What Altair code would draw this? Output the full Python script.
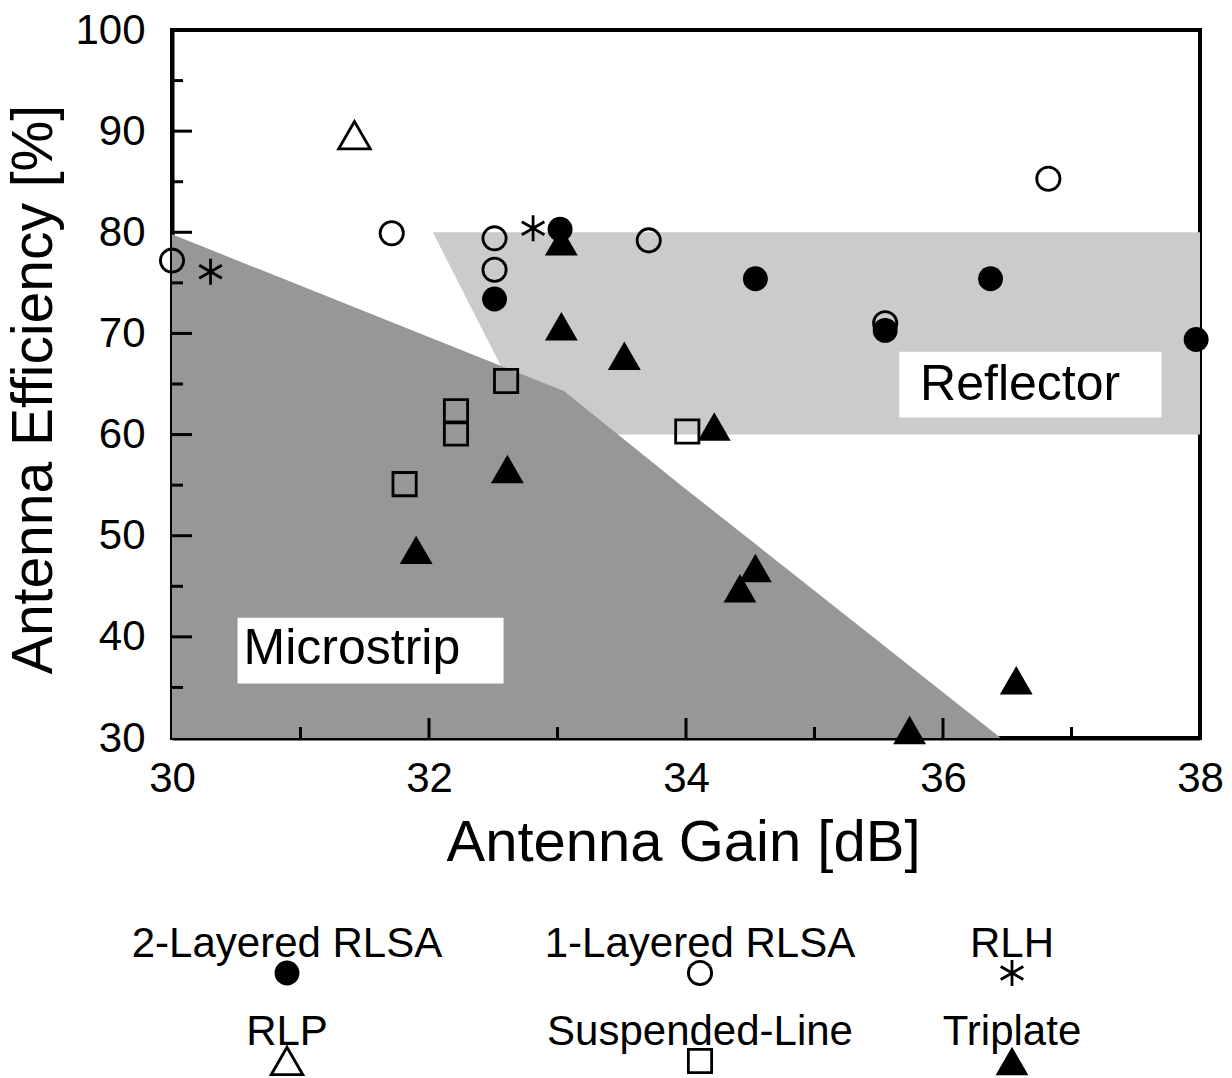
import altair as alt
import pandas as pd

# ---------------- data ----------------
two_layer_gain = [33.02, 32.51, 34.54, 35.55, 36.37, 37.97]
two_layer_eff = [80.3, 73.4, 75.4, 70.3, 75.4, 69.4]

one_layer_gain = [30.0, 31.71, 32.51, 32.51, 33.71, 35.55, 36.82]
one_layer_eff = [77.2, 79.9, 79.4, 76.3, 79.2, 71.0, 85.3]

rlh_gain = [30.30, 32.81]
rlh_eff = [76.1, 80.4]

rlp_gain = [31.42]
rlp_eff = [89.6]

susp_gain = [31.81, 32.21, 32.21, 32.60, 34.01]
susp_eff = [55.1, 60.1, 62.3, 65.3, 60.3]

tri_gain = [33.03, 33.03, 33.52, 34.22, 32.61, 31.90, 34.54, 34.42, 36.57, 35.74]
tri_eff = [79.1, 70.7, 67.8, 60.8, 56.6, 48.6, 46.8, 44.8, 35.7, 30.8]

# shaded regions
micro_gain = [30.0, 33.05, 33.98, 36.45]
micro_top = [79.8, 64.3, 54.8, 30.0]
micro_bottom = [30.0, 30.0, 30.0, 30.0]

refl_gain = [32.03, 32.83, 38.0]
refl_top = [80.0, 80.0, 80.0]
refl_bottom = [80.0, 60.0, 60.0]

# region labels
region_names = ["Reflector", "Microstrip"]
region_text_gain = [36.6, 31.40]
region_text_eff = [64.9, 38.8]
region_box_g1 = [35.66, 30.51]
region_box_g2 = [37.70, 32.58]
region_box_e1 = [61.7, 35.4]
region_box_e2 = [68.2, 41.9]

# ticks
x_major = [32, 34, 36]
x_minor = [31, 33, 35, 37]
y_major = [40, 50, 60, 70, 80, 90]
y_minor = [35, 45, 55, 65, 75, 85, 95]

# legend
legend_names = ["2-Layered RLSA", "1-Layered RLSA", "RLH", "RLP", "Suspended-Line", "Triplate"]
legend_col = [0, 1, 2, 0, 1, 2]
legend_row = [0, 0, 0, 1, 1, 1]

# ---------------- styling ----------------
W, H = 1028, 708
FONT = "Liberation Sans"
DARK = "#979797"
LIGHT = "#cbcbcb"
ASTERISK = "M0,-1L0,1M-0.866,-0.5L0.866,0.5M-0.866,0.5L0.866,-0.5"

xs = alt.Scale(domain=[30, 38], nice=False, zero=False)
ys = alt.Scale(domain=[30, 100], nice=False, zero=False)

x_axis = alt.Axis(
    values=[30, 32, 34, 36, 38], format="d", title="Antenna Gain [dB]",
    ticks=False, tickSize=0, labelPadding=20, labelFlush=False,
    labelFont=FONT, labelFontSize=42, labelColor="black",
    titleFont=FONT, titleFontSize=58, titleFontWeight="normal", titleColor="black",
    titleX=511, titleY=122, titleBaseline="alphabetic", titleAlign="center",
    domainColor="black", domainWidth=4, grid=False,
)
y_axis = alt.Axis(
    values=[30, 40, 50, 60, 70, 80, 90, 100], format="d", title="Antenna Efficiency [%]",
    ticks=False, tickSize=0, labelPadding=27, labelFlush=False,
    labelFont=FONT, labelFontSize=42, labelColor="black",
    titleFont=FONT, titleFontSize=57, titleFontWeight="normal", titleColor="black",
    titleX=-121, titleY=359, titleAngle=-90, titleBaseline="alphabetic", titleAlign="center",
    domainColor="black", domainWidth=4, grid=False,
)


def X(field):
    return alt.X(f"{field}:Q", scale=xs, axis=x_axis)


def Y(field):
    return alt.Y(f"{field}:Q", scale=ys, axis=y_axis)


micro_df = pd.DataFrame({"gain": micro_gain, "eff": micro_top, "eff2": micro_bottom})
refl_df = pd.DataFrame({"gain": refl_gain, "eff": refl_top, "eff2": refl_bottom})

refl_area = alt.Chart(refl_df).mark_area(color=LIGHT, opacity=1).encode(
    x=X("gain"), y=Y("eff"), y2="eff2")
micro_area = alt.Chart(micro_df).mark_area(color=DARK, opacity=1).encode(
    x=X("gain"), y=Y("eff"), y2="eff2")

box_df = pd.DataFrame({"gain": region_box_g1, "gain2": region_box_g2,
                       "eff": region_box_e1, "eff2": region_box_e2})
boxes = alt.Chart(box_df).mark_rect(color="white", opacity=1).encode(
    x=X("gain"), x2="gain2", y=Y("eff"), y2="eff2")

rtext_df = pd.DataFrame({"gain": region_text_gain, "eff": region_text_eff, "name": region_names})
rtexts = alt.Chart(rtext_df).mark_text(font=FONT, fontSize=50, color="black",
                                       align="center", baseline="middle").encode(
    x=X("gain"), y=Y("eff"), text="name:N")

# inward ticks
xmaj = alt.Chart(pd.DataFrame({"gain": x_major})).mark_rule(color="black", strokeWidth=3).encode(
    x=X("gain"), y=alt.value(H), y2=alt.value(H - 20))
xmin = alt.Chart(pd.DataFrame({"gain": x_minor})).mark_rule(color="black", strokeWidth=3).encode(
    x=X("gain"), y=alt.value(H), y2=alt.value(H - 11))
ymaj = alt.Chart(pd.DataFrame({"eff": y_major})).mark_rule(color="black", strokeWidth=3).encode(
    y=Y("eff"), x=alt.value(0), x2=alt.value(20))
ymin = alt.Chart(pd.DataFrame({"eff": y_minor})).mark_rule(color="black", strokeWidth=3).encode(
    y=Y("eff"), x=alt.value(0), x2=alt.value(11))

# marker styles per series
styles = {
    "2-Layered RLSA": dict(shape="circle", filled=True, size=620, color="black"),
    "1-Layered RLSA": dict(shape="circle", filled=False, size=540, color="black", strokeWidth=2.8),
    "RLH": dict(shape=ASTERISK, filled=False, size=680, color="black", strokeWidth=2.8),
    "RLP": dict(shape="triangle-up", filled=False, size=1000, color="black", strokeWidth=2.8),
    "Suspended-Line": dict(shape="square", filled=False, size=540, color="black", strokeWidth=2.8),
    "Triplate": dict(shape="triangle-up", filled=True, size=1080, color="black"),
}
series_data = {
    "2-Layered RLSA": (two_layer_gain, two_layer_eff),
    "1-Layered RLSA": (one_layer_gain, one_layer_eff),
    "RLH": (rlh_gain, rlh_eff),
    "RLP": (rlp_gain, rlp_eff),
    "Suspended-Line": (susp_gain, susp_eff),
    "Triplate": (tri_gain, tri_eff),
}

point_layers = []
for name in ["Suspended-Line", "1-Layered RLSA", "RLH", "RLP", "Triplate", "2-Layered RLSA"]:
    g, e = series_data[name]
    df = pd.DataFrame({"gain": g, "eff": e})
    point_layers.append(
        alt.Chart(df).mark_point(opacity=1, **styles[name]).encode(x=X("gain"), y=Y("eff")))

main = alt.layer(refl_area, micro_area, boxes, rtexts, xmaj, xmin, ymaj, ymin, *point_layers)

# legend below the plot
leg_df = pd.DataFrame({"name": legend_names, "col": legend_col, "row": legend_row})
lx = alt.X("col:Q", scale=alt.Scale(domain=[0, 1, 2], range=[115, 528, 840]), axis=None)
ly = alt.Y("row:Q", scale=alt.Scale(domain=[0, 1], range=[927, 1015]), axis=None)
leg_text = alt.Chart(leg_df).mark_text(font=FONT, fontSize=42, color="black",
                                       align="center", baseline="alphabetic").encode(
    x=lx, y=ly, text="name:N")
leg_syms = []
for i, name in enumerate(legend_names):
    leg_syms.append(
        alt.Chart(leg_df.iloc[[i]]).mark_point(opacity=1, yOffset=16, **styles[name]).encode(x=lx, y=ly))
legend = alt.layer(leg_text, *leg_syms)

chart = alt.layer(main, legend).resolve_scale(x="independent", y="independent").properties(
    width=W, height=H,
    padding={"left": 172, "top": 30, "right": 32, "bottom": 340},
    autosize=alt.AutoSizeParams(type="none"),
    background="white",
).configure_view(stroke="black", strokeWidth=4)

chart.save("out.html", embed_options={"renderer": "svg", "actions": False})
